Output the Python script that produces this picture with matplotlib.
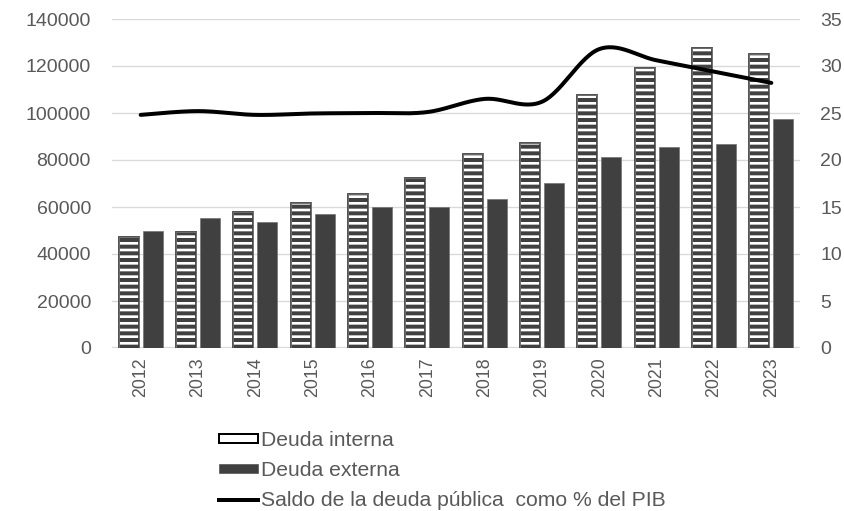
import numpy as np
import matplotlib
matplotlib.use("Agg")
import matplotlib.pyplot as plt
from matplotlib.patches import Patch
from matplotlib.lines import Line2D

# Deuda pública: componentes en millones y saldo como % del PIB
years = ["2012", "2013", "2014", "2015", "2016", "2017",
         "2018", "2019", "2020", "2021", "2022", "2023"]
deuda_interna = [47200, 49400, 57900, 61700, 65500, 72300,
                 82500, 87200, 107700, 119100, 127700, 125100]
deuda_externa = [49800, 55300, 53600, 57000, 60000, 60000,
                 63400, 70200, 81300, 85500, 86800, 97400]
saldo_pib = [24.8, 25.2, 24.8, 24.95, 25.0, 25.1,
             26.5, 26.2, 31.8, 30.6, 29.4, 28.2]

TXT = "#595959"
DARK = "#404040"
GRID = "#d9d9d9"

plt.rcParams["font.family"] = ["Liberation Sans", "DejaVu Sans"]
plt.rcParams["hatch.linewidth"] = 2.4


def smooth(x, y, n=30):
    # bezier smoothing between consecutive points (tension 1/6)
    p = np.column_stack([x, y]).astype(float)
    pts = []
    for i in range(len(p) - 1):
        p0 = p[max(i - 1, 0)]
        p1, p2 = p[i], p[i + 1]
        p3 = p[min(i + 2, len(p) - 1)]
        c1 = p1 + (p2 - p0) / 6
        c2 = p2 - (p3 - p1) / 6
        t = np.linspace(0, 1, n)[:, None]
        seg = ((1 - t) ** 3) * p1 + 3 * ((1 - t) ** 2) * t * c1 \
            + 3 * (1 - t) * t ** 2 * c2 + t ** 3 * p2
        pts.append(seg if i == 0 else seg[1:])
    s = np.vstack(pts)
    return s[:, 0], s[:, 1]


fig = plt.figure(figsize=(844 / 80, 511 / 80), dpi=80)
ax = fig.add_axes([112 / 844, 1 - 348 / 511, 688 / 844, 329 / 511])
ax2 = ax.twinx()

x = np.arange(len(years))
w = 0.35
off = 0.21

# hatched bars: dark face with white stripes, plus outline on top
ax.bar(x - off, deuda_interna, w, color=DARK, edgecolor="white",
       hatch="--", linewidth=0, zorder=2)
ax.bar(x - off, deuda_interna, w, fill=False, edgecolor=DARK,
       linewidth=1.6, zorder=3)
ax.bar(x - off, deuda_interna, w, fill=False, edgecolor="#808080",
       linewidth=0.6, zorder=3)
ax.bar(x + off, deuda_externa, w, color=DARK, edgecolor="#707070",
       linewidth=0.6, zorder=2)

sx, sy = smooth(x, saldo_pib)
ax2.plot(sx, sy, color="black", linewidth=3.6, solid_capstyle="round",
         zorder=4)

ax.set_xlim(-0.5, len(years) - 0.5)
ax.set_ylim(0, 140000)
ax.set_yticks(np.arange(0, 140001, 20000))
ax2.set_ylim(0, 35)
ax2.set_yticks(np.arange(0, 36, 5))

ax.set_xticks(x)
ax.set_xticklabels(years, rotation=90)

ax.grid(axis="y", color=GRID, linewidth=1.2, zorder=0)
ax.set_axisbelow(True)
for a in (ax, ax2):
    for side in ("top", "left", "right", "bottom"):
        a.spines[side].set_visible(False)
ax.axhline(0, color=GRID, linewidth=2, zorder=1)

ax.tick_params(axis="y", length=0, pad=19, labelsize=17.5, labelcolor=TXT)
ax.tick_params(axis="x", length=0, pad=8, labelsize=16, labelcolor=TXT)
ax2.tick_params(axis="y", length=0, pad=18, labelsize=17.5, labelcolor=TXT)

handles = [
    Patch(facecolor="white", edgecolor="black", linewidth=1.8),
    Patch(facecolor=DARK, edgecolor=DARK, linewidth=0.5),
    Line2D([], [], color="black", linewidth=3.6),
]
labels = ["Deuda interna", "Deuda externa",
          "Saldo de la deuda pública  como % del PIB"]
fig.legend(handles, labels, loc="upper left",
           bbox_to_anchor=(219 / 844, 1 - 431 / 511),
           frameon=False, fontsize=19, labelcolor=TXT,
           handlelength=1.85, handleheight=0.25, handletextpad=0.15,
           labelspacing=0.52, borderpad=0, borderaxespad=0)

fig.savefig("out.png", dpi=80)
